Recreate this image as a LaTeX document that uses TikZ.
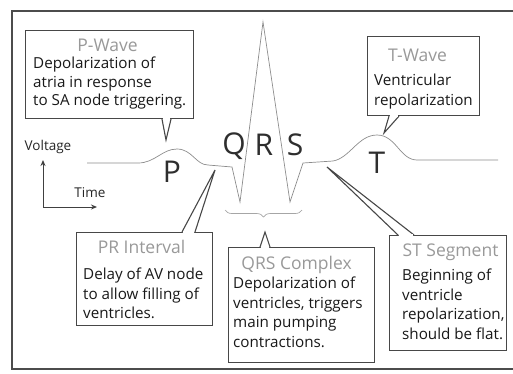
\documentclass[tikz,border=0pt]{standalone}
\usepackage{fontspec}
\setmainfont{Open Sans}
\usetikzlibrary{arrows.meta,positioning,calc,decorations.pathreplacing}

\begin{document}
\begin{tikzpicture}[
  x=1pt, y=-1pt,
  infobox/.style={draw=black!72,line width=1.1pt,fill=white,anchor=north west,inner sep=0pt},
  heading/.style={text=black!40,font=\fontsize{17.5}{19}\selectfont,inner sep=0pt,anchor=base},
  body/.style={text=black!90,font=\fontsize{15.2}{19.5}\selectfont,align=left,anchor=north west,inner sep=0pt},
  pointer/.style={draw=black!72,line width=1.1pt,fill=white,line join=miter},
  gap/.style={draw=white,line width=1.8pt,shorten <=0.7pt,shorten >=0.7pt},
  ecg/.style={draw=black!45,line width=0.7pt},
  wave/.style={text=black!82,font=\fontsize{30}{30}\selectfont,inner sep=0pt},
  axis/.style={{Stealth[length=6pt,width=5pt]}-{Stealth[length=6pt,width=5pt]},draw=black!75,line width=1pt},
  axlbl/.style={text=black!85,font=\fontsize{13.5}{15}\selectfont,inner sep=0pt},
  brace/.style={decorate,decoration={brace,mirror,amplitude=7pt},draw=black!35,line width=0.7pt}
]
\useasboundingbox (0,0) rectangle (513,373);

% Frame
\draw[black!70,line width=1.2pt] (513,11) -- (12,11) -- (12,369) -- (513,369);

% Axes
\coordinate (orig) at (43,207);
\coordinate (vtop) at (43,160);
\coordinate (tend) at (97,207);
\draw[axis] (vtop) -- (orig) -- (tend);
\node[axlbl] (volt) at (48,147) {Voltage};
\node[axlbl] (time) at (90,193) {Time};

% ECG trace
\draw[ecg] (87,163) -- (138,163) .. controls (155,163) and (162,149) .. (177,149)
  .. controls (192,149) and (196,165) .. (208,165) -- (232,167) -- (240,202)
  -- (263,22) -- (290,202) -- (303,163) -- (333,161)
  .. controls (350,158) and (358,135) .. (377,135)
  .. controls (396,135) and (400,160) .. (417,160) -- (498,160);

% Wave letters
\node[wave] (pl) at (172,172) {P};
\node[wave] (ql) at (234,146) {Q};
\node[wave] (rl) at (264,145) {R};
\node[wave] (sl) at (295,145) {S};
\node[wave] (tl) at (377,163) {T};

% QRS brace
\coordinate (qrsl) at (225,210);
\coordinate (qrsr) at (302,210);
\draw[brace] (qrsl) -- (qrsr);

% Pointer tips
\coordinate (ptip) at (166,140);
\coordinate (ttip) at (384,133);
\coordinate (prtip) at (215,170);
\coordinate (qrstip) at (265,232);
\coordinate (sttip) at (327,167);

% P-Wave
\node[infobox,minimum width=168pt,minimum height=88pt] (pwave) at (25,30) {};
\node[heading] (pwavet) at ($(pwave.north)+(-2,21.5)$) {P-Wave};
\node[body,font=\fontsize{15.2}{18.5}\selectfont] (pwaveb) at ($(pwave.north west)+(8,27)$)
  {Depolarization of\\atria in response\\to SA node triggering.};
\coordinate (p1) at ($(pwave.south west)+(137,0)$);
\coordinate (p2) at ($(pwave.south west)+(146,0)$);
\draw[pointer] (p1) -- (ptip) -- (p2);
\draw[gap] (p1) -- (p2);

% T-Wave
\node[infobox,minimum width=112pt,minimum height=79pt] (twave) at (367,36) {};
\node[heading] (twavet) at ($(twave.north)+(-6,25.5)$) {T-Wave};
\node[body] (twaveb) at ($(twave.north west)+(7,38)$)
  {Ventricular\\repolarization};
\coordinate (t1) at ($(twave.south west)+(22,0)$);
\coordinate (t2) at ($(twave.south west)+(32,0)$);
\draw[pointer] (t1) -- (ttip) -- (t2);
\draw[gap] (t1) -- (t2);

% PR interval
\node[infobox,minimum width=136pt,minimum height=93pt] (prbox) at (76,232) {};
\node[heading] (prt) at ($(prbox.north)+(-3,21.5)$) {PR Interval};
\node[body] (prb) at ($(prbox.north west)+(7,36)$)
  {Delay of AV node\\to allow filling of\\ventricles.};
\coordinate (pr1) at ($(prbox.north west)+(106,0)$);
\coordinate (pr2) at ($(prbox.north west)+(119,0)$);
\draw[pointer] (pr1) -- (prtip) -- (pr2);
\draw[gap] (pr1) -- (pr2);

% QRS complex
\node[infobox,minimum width=146pt,minimum height=115pt] (qrsbox) at (228,247) {};
\node[heading] (qrst) at ($(qrsbox.north)+(-5,22.5)$) {QRS Complex};
\node[body] (qrsb) at ($(qrsbox.north west)+(5,30)$)
  {Depolarization of\\ventricles, triggers\\main pumping\\contractions.};
\coordinate (q1) at ($(qrsbox.north west)+(32,0)$);
\coordinate (q2) at ($(qrsbox.north west)+(42,0)$);
\draw[pointer] (q1) -- (qrstip) -- (q2);
\draw[gap] (q1) -- (q2);

% ST segment
\node[infobox,minimum width=117pt,minimum height=115pt] (stbox) at (389,235) {};
\node[heading] (stt) at ($(stbox.north)+(2.5,21.5)$) {ST Segment};
\node[body] (stb) at ($(stbox.north west)+(13,34)$)
  {Beginning of\\ventricle\\repolarization,\\should be flat.};
\coordinate (s1) at ($(stbox.north west)+(9,0)$);
\coordinate (s2) at ($(stbox.north west)+(25,0)$);
\draw[pointer] (s1) -- (sttip) -- (s2);
\draw[gap] (s1) -- (s2);

\end{tikzpicture}
\end{document}
